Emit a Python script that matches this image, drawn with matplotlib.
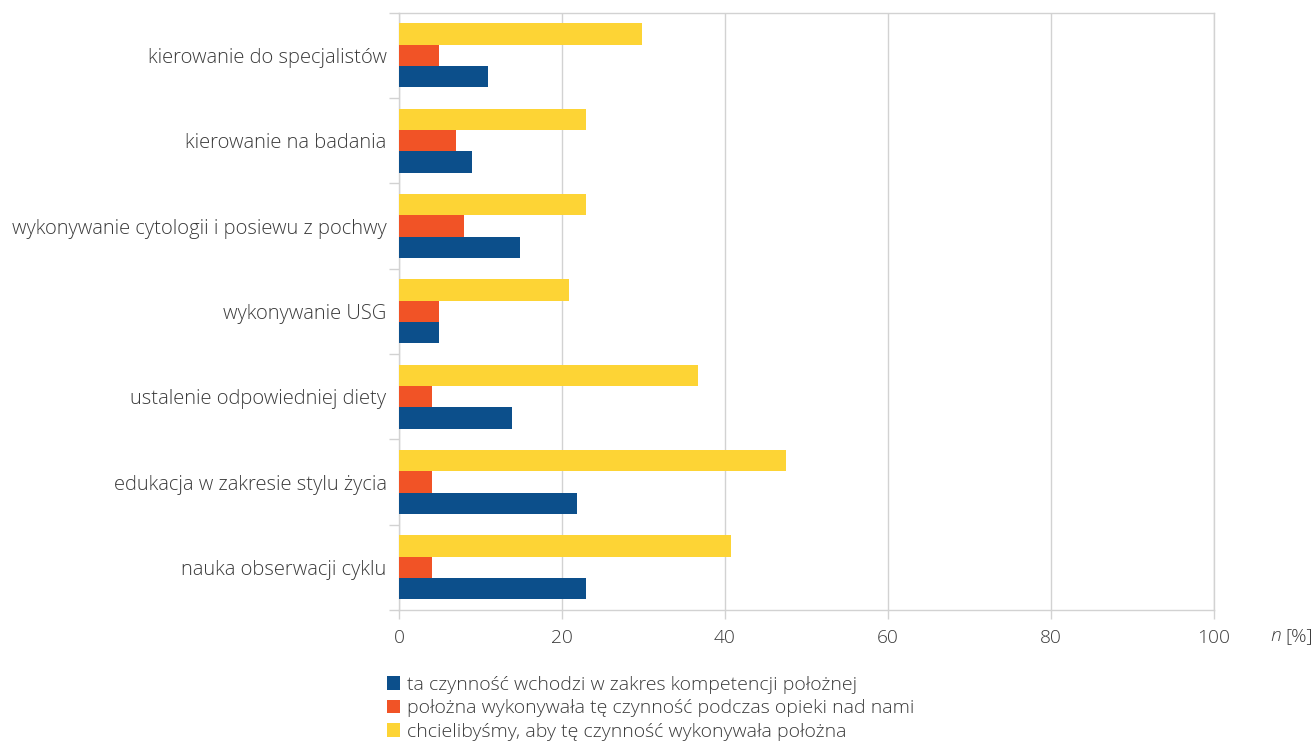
import numpy as np
import matplotlib
matplotlib.use("Agg")
import matplotlib.pyplot as plt
from matplotlib.patches import Patch

plt.rcParams['font.family'] = ['Open Sans', 'DejaVu Sans']
plt.rcParams['font.weight'] = 'light'

categories = ['kierowanie do specjalistów', 'kierowanie na badania',
              'wykonywanie cytologii i posiewu z pochwy', 'wykonywanie USG',
              'ustalenie odpowiedniej diety', 'edukacja w zakresie stylu życia',
              'nauka obserwacji cyklu']
kompetencje = [10.9, 8.9, 14.8, 4.9, 13.9, 21.8, 22.9]
wykonywala = [4.9, 7.0, 8.0, 4.9, 4.0, 4.0, 4.0]
chcielibysmy = [29.8, 22.9, 22.9, 20.9, 36.7, 47.5, 40.7]
series_labels = ['ta czynność wchodzi w zakres kompetencji położnej',
                 'położna wykonywała tę czynność podczas opieki nad nami',
                 'chcielibyśmy, aby tę czynność wykonywała położna']
xticks = [0, 20, 40, 60, 80, 100]

blue, red, yellow = '#0c4f8b', '#f15326', '#fdd435'
grid_c = '#d2d2d2'
text_c = '#3a3a3a'
fs = 14.5

fig = plt.figure(figsize=(13.14, 7.44), dpi=100)
ax = fig.add_axes([399 / 1314, 1 - 610 / 744, (1214 - 399) / 1314, (610 - 12.7) / 744])

y = np.arange(len(categories))
h = 0.25
ax.barh(y - h, chcielibysmy, height=h, color=yellow, zorder=3)
ax.barh(y, wykonywala, height=h, color=red, zorder=3)
ax.barh(y + h, kompetencje, height=h, color=blue, zorder=3)

ax.set_xlim(0, 100)
ax.set_ylim(len(categories) - 0.5, -0.5)
ax.set_xticks(xticks)
ax.set_xticklabels([str(v) for v in xticks])
ax.xaxis.grid(True, color=grid_c, linewidth=1, zorder=0)

# category names sit between boundary ticks
ax.set_yticks(np.arange(len(categories) + 1) - 0.5)
ax.set_yticklabels([])
ax.set_yticks(y, minor=True)
ax.set_yticklabels(categories, minor=True)
ax.tick_params(axis='y', which='major', length=7, color=grid_c, width=1)
ax.tick_params(axis='y', which='minor', length=0, pad=9, labelsize=fs, labelcolor=text_c)
ax.tick_params(axis='x', length=6.5, color=grid_c, width=1, pad=7, labelsize=13.8, labelcolor=text_c)

for side in ['left', 'bottom', 'top', 'right']:
    ax.spines[side].set_color(grid_c)
    ax.spines[side].set_linewidth(1)

# axis unit: italic n followed by [%]
ax.text(1.0825, -0.043, 'n', transform=ax.transAxes, fontsize=13.8, style='italic',
        color=text_c, ha='right', va='center')
ax.text(1.087, -0.043, '[%]', transform=ax.transAxes, fontsize=13.8,
        color=text_c, ha='left', va='center')

handles = [Patch(facecolor=c, edgecolor='none') for c in (blue, red, yellow)]
fig.legend(handles, series_labels, loc='upper left', bbox_to_anchor=(379 / 1314, 1 - 668 / 744),
           frameon=False, fontsize=14, labelcolor=text_c, handlelength=0.68, handleheight=0.68,
           handletextpad=0.35, labelspacing=0.28, borderaxespad=0)

fig.savefig('out.png', dpi=100, facecolor='white')
